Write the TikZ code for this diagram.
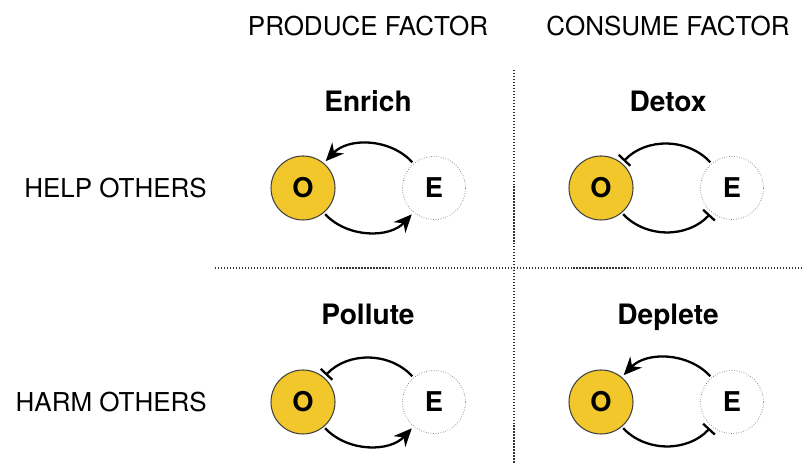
\documentclass[tikz,border=0pt]{standalone}
\usepackage{fontspec}
\setmainfont{TeX Gyre Heros}
\usetikzlibrary{arrows.meta}
\definecolor{gold}{RGB}{242,199,44}
\tikzset{
  org/.style={circle, draw=black!75, line width=0.6pt, fill=gold, minimum size=1.28cm, inner sep=0pt, font=\fontsize{15.5}{18}\selectfont\bfseries},
  env/.style={circle, draw=black!55, densely dotted, minimum size=1.26cm, inner sep=0pt, font=\fontsize{15.5}{18}\selectfont\bfseries},
  effect/.style={anchor=base, font=\fontsize{16}{19}\selectfont\bfseries},
  head/.style={font=\fontsize{14.8}{18}\selectfont},
  grid/.style={densely dotted, black!80, line width=0.7pt},
  link/.style={line width=1.3pt, shorten >=1.5pt, shorten <=1pt},
  up/.style={link, -{Stealth[length=3.6mm, width=3.2mm]}},
  block/.style={link, -{Bar[width=3.2mm, line width=1.3pt]}}
}
\begin{document}
\begin{tikzpicture}[node distance=2.62cm]
\useasboundingbox (0,0) rectangle (16.08,9.28);
% column and row headers
\node[head, anchor=base] (produce) at (7.36,8.56) {PRODUCE FACTOR};
\node[head, anchor=base] (consume) at (13.36,8.56) {CONSUME FACTOR};
\node[head, anchor=east] (help) at (4.26,5.52) {HELP OTHERS};
\node[head, anchor=east] (harm) at (4.26,1.24) {HARM OTHERS};
% dividers
\draw[grid] (10.28,7.88) -- (10.28,0);
\draw[grid] (4.3,3.92) -- (16.08,3.92);
% enrich
\node[org] (o1) at (6.06,5.52) {O};
\node[env] (e1) [right of = o1] {E};
\node[effect] (enrich) at (7.36,7.04) {Enrich};
\draw[up] (e1.130) to[bend right=47] (o1.50);
\draw[up] (o1.-50) to[bend right=47] (e1.-130);
% detox
\node[org] (o2) at (12.02,5.52) {O};
\node[env] (e2) [right of = o2] {E};
\node[effect] (detox) at (13.36,7.04) {Detox};
\draw[block] (e2.130) to[bend right=47] (o2.50);
\draw[block] (o2.-50) to[bend right=47] (e2.-130);
% pollute
\node[org] (o3) at (6.06,1.24) {O};
\node[env] (e3) [right of = o3] {E};
\node[effect] (pollute) at (7.36,2.78) {Pollute};
\draw[block] (e3.130) to[bend right=47] (o3.50);
\draw[up] (o3.-50) to[bend right=47] (e3.-130);
% deplete
\node[org] (o4) at (12.02,1.24) {O};
\node[env] (e4) [right of = o4] {E};
\node[effect] (deplete) at (13.36,2.78) {Deplete};
\draw[up] (e4.130) to[bend right=47] (o4.50);
\draw[block] (o4.-50) to[bend right=47] (e4.-130);
\end{tikzpicture}
\end{document}
